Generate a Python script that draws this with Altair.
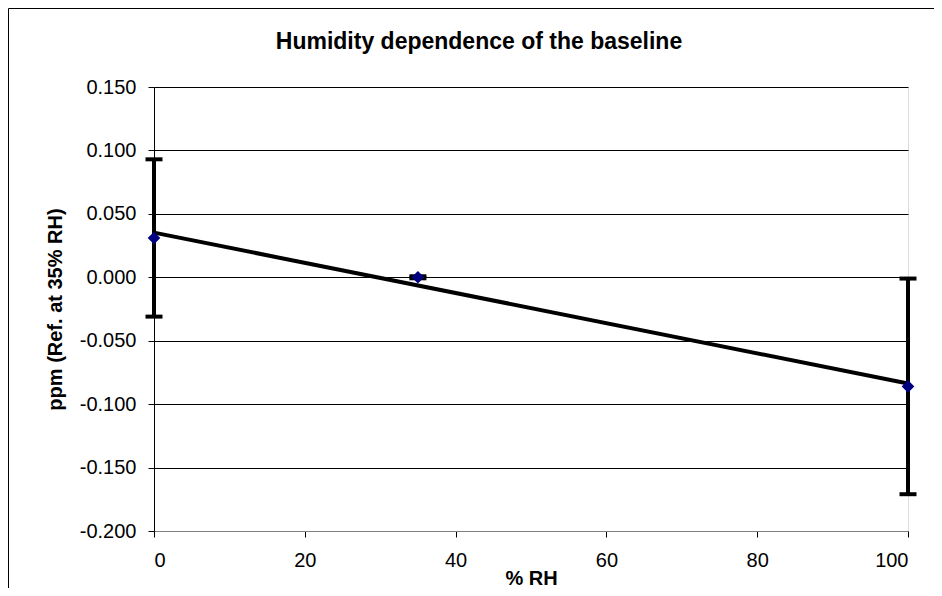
import altair as alt
import pandas as pd

rh = [0, 35, 100]
ppm = [0.031, 0.000, -0.086]
err = [0.062, 0.0008, 0.085]

df = pd.DataFrame({"rh": rh, "ppm": ppm, "err": err})
df["lo"] = df["ppm"] - df["err"]
df["hi"] = df["ppm"] + df["err"]

FONT = "Liberation Sans"
W, H = 754, 444

xscale = alt.Scale(domain=[0, 100], nice=False, zero=False)
yscale = alt.Scale(domain=[-0.2, 0.15], nice=False, zero=False)

xaxis = alt.Axis(values=[0, 20, 40, 60, 80, 100], title="% RH", grid=False,
                 domainColor="#808080", tickColor="#000000", tickSize=6,
                 labelPadding=13, labelFontSize=20, labelFont=FONT, labelColor="#000",
                 titleFont=FONT, titleFontSize=20, titleFontWeight="bold",
                 titleX=W / 2, titleY=47, titleBaseline="middle", titleAlign="center",
                 titleColor="#000")
yaxis = alt.Axis(values=[-0.2, -0.15, -0.1, -0.05, 0, 0.05, 0.1, 0.15],
                 labelExpr="replace(format(datum.value, '.3f'), '\u2212', '-')",
                 title="ppm (Ref. at 35% RH)", grid=True, gridColor="#000000", gridWidth=1,
                 domainColor="#000000", tickColor="#000000", tickSize=6,
                 labelPadding=12, labelFontSize=20, labelFont=FONT, labelColor="#000",
                 titleFont=FONT, titleFontSize=20, titleFontWeight="bold",
                 titleX=-99, titleY=H / 2, titleAngle=270, titleBaseline="middle",
                 titleAlign="center", titleColor="#000")

base = alt.Chart(df)

border = base.mark_rect(fill=None, stroke="#000000", strokeWidth=1, clip=False).encode(
    x=alt.value(-145.5), x2=alt.value(W + 60), y=alt.value(-78.5), y2=alt.value(H + 80)
).transform_filter(alt.datum.rh == 0)

rules = base.mark_rule(color="#000000", strokeWidth=4, opacity=1).encode(
    x=alt.X("rh:Q", scale=xscale, axis=xaxis),
    y=alt.Y("lo:Q", scale=yscale, axis=yaxis),
    y2="hi:Q",
)
cap_hi = base.mark_tick(color="#000000", orient="horizontal", size=17, thickness=4, opacity=1).encode(
    x=alt.X("rh:Q", scale=xscale), y=alt.Y("hi:Q", scale=yscale)
)
cap_lo = base.mark_tick(color="#000000", orient="horizontal", size=17, thickness=4, opacity=1).encode(
    x=alt.X("rh:Q", scale=xscale), y=alt.Y("lo:Q", scale=yscale)
)
trend = base.transform_regression("rh", "ppm", extent=[0, 100]).mark_line(
    color="#000000", strokeWidth=4
).encode(x=alt.X("rh:Q", scale=xscale), y=alt.Y("ppm:Q", scale=yscale))
points = base.mark_point(shape="diamond", filled=True, color="#000080", size=160, opacity=1).encode(
    x=alt.X("rh:Q", scale=xscale), y=alt.Y("ppm:Q", scale=yscale)
)

chart = alt.layer(border, rules, cap_hi, cap_lo, trend, points).properties(
    width=W, height=H,
    title=alt.TitleParams("Humidity dependence of the baseline", font=FONT, fontSize=23,
                          fontWeight="bold", color="#000", anchor="middle", dx=-52,
                          offset=-64, baseline="alphabetic"),
    autosize=alt.AutoSizeParams(type="none"),
    padding={"left": 146, "top": 79, "right": 26, "bottom": 57},
).configure_view(stroke="#808080", strokeWidth=1).configure(background="#ffffff")

chart.save("out.html", embed_options={"renderer": "svg", "actions": False})
